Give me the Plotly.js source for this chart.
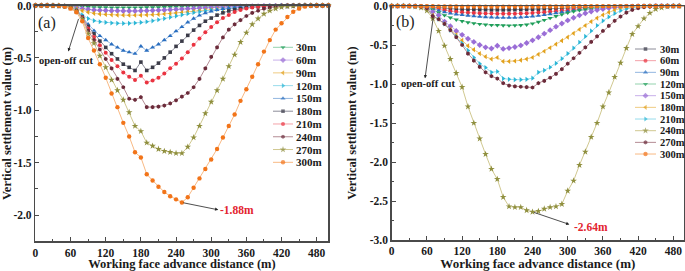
<!DOCTYPE html>
<html><head><meta charset="utf-8">
<script src="https://cdn.plot.ly/plotly-3.0.1.min.js"></script>
<style>html,body{margin:0;padding:0;background:#fff;} #chart{width:685px;height:271px;}</style>
</head><body><div id="chart"></div>
<script>
// ---------- data ----------
const xDist = [0,10,20,30,40,50,60,70,80,90,100,110,120,130,140,150,160,170,180,190,200,210,220,230,240,250,260,270,280,290,300,310,320,330,340,350,360,370,380,390,400,410,420,430,440,450,460,470,480,490,500];
const seriesNames = ['30m','60m','90m','120m','150m','180m','210m','240m','270m','300m'];

// panel (a)
const a30 = [0,0,0,0,-0.002,-0.004,-0.007,-0.010,-0.013,-0.015,
  -0.017,-0.018,-0.019,-0.020,-0.020,-0.020,-0.020,-0.020,-0.020,-0.019,
  -0.018,-0.017,-0.016,-0.015,-0.014,-0.013,-0.012,-0.011,-0.010,-0.009,
  -0.008,-0.007,-0.006,-0.005,-0.005,-0.004,-0.004,-0.003,-0.003,-0.002,
  -0.002,-0.002,-0.001,-0.001,-0.001,-0.001,0,0,0,0,0];
const a60 = [0,0,0,-0.001,-0.003,-0.006,-0.012,-0.020,-0.030,-0.038,
  -0.043,-0.046,-0.048,-0.050,-0.051,-0.052,-0.052,-0.052,-0.051,-0.050,
  -0.048,-0.046,-0.043,-0.040,-0.037,-0.034,-0.031,-0.028,-0.025,-0.022,
  -0.019,-0.017,-0.015,-0.013,-0.011,-0.009,-0.008,-0.007,-0.006,-0.005,
  -0.004,-0.003,-0.002,-0.002,-0.001,-0.001,0,0,0,0,0];
const a90 = [0,0,0,-0.001,-0.003,-0.007,-0.015,-0.030,-0.050,-0.065,
  -0.075,-0.082,-0.086,-0.089,-0.091,-0.092,-0.093,-0.093,-0.092,-0.090,
  -0.088,-0.085,-0.081,-0.077,-0.072,-0.067,-0.062,-0.056,-0.050,-0.045,
  -0.040,-0.035,-0.030,-0.026,-0.022,-0.018,-0.015,-0.012,-0.010,-0.008,
  -0.006,-0.005,-0.004,-0.003,-0.002,-0.001,-0.001,0,0,0,0];
const a120 = [0,0,0,-0.001,-0.003,-0.008,-0.018,-0.040,-0.090,-0.125,
  -0.145,-0.155,-0.162,-0.167,-0.170,-0.171,-0.170,-0.167,-0.162,-0.155,
  -0.146,-0.136,-0.125,-0.113,-0.101,-0.089,-0.078,-0.068,-0.059,-0.051,
  -0.044,-0.038,-0.032,-0.027,-0.022,-0.018,-0.015,-0.012,-0.010,-0.008,
  -0.006,-0.005,-0.004,-0.003,-0.002,-0.001,-0.001,0,0,0,0];
const a150 = [0,0,0,-0.001,-0.003,-0.008,-0.020,-0.045,-0.105,-0.180,
  -0.240,-0.290,-0.330,-0.370,-0.400,-0.430,-0.445,-0.460,-0.390,-0.430,
  -0.400,-0.370,-0.330,-0.290,-0.245,-0.205,-0.160,-0.125,-0.095,-0.072,
  -0.055,-0.042,-0.032,-0.025,-0.019,-0.015,-0.011,-0.008,-0.006,-0.004,
  -0.003,-0.002,-0.001,-0.001,0,0,0,0,0,0,0];
const a180 = [0,0,0,-0.001,-0.003,-0.008,-0.020,-0.048,-0.110,-0.200,
  -0.270,-0.340,-0.400,-0.460,-0.510,-0.560,-0.590,-0.620,-0.540,-0.620,
  -0.590,-0.550,-0.500,-0.445,-0.390,-0.340,-0.285,-0.235,-0.190,-0.150,
  -0.120,-0.092,-0.070,-0.052,-0.040,-0.030,-0.022,-0.016,-0.011,-0.008,
  -0.005,-0.003,-0.002,-0.001,0,0,0,0,0,0,0];
const a210 = [0,0,0,-0.001,-0.003,-0.008,-0.020,-0.050,-0.115,-0.220,
  -0.300,-0.380,-0.450,-0.520,-0.580,-0.640,-0.680,-0.710,-0.670,-0.735,
  -0.715,-0.690,-0.650,-0.600,-0.555,-0.505,-0.445,-0.375,-0.315,-0.255,
  -0.205,-0.160,-0.120,-0.090,-0.062,-0.042,-0.028,-0.018,-0.012,-0.008,
  -0.005,-0.003,-0.002,-0.001,0,0,0,0,0,0,0];
const a240 = [0,0,0,-0.001,-0.003,-0.008,-0.020,-0.052,-0.120,-0.240,
  -0.330,-0.420,-0.510,-0.600,-0.700,-0.780,-0.890,-0.900,-0.875,-0.970,
  -0.970,-0.965,-0.955,-0.935,-0.905,-0.870,-0.835,-0.780,-0.700,-0.600,
  -0.490,-0.400,-0.305,-0.230,-0.180,-0.140,-0.100,-0.070,-0.050,-0.030,
  -0.020,-0.012,-0.007,-0.004,-0.002,-0.001,0,0,0,0,0];
const a270 = [0,0,0,-0.001,-0.003,-0.008,-0.020,-0.055,-0.130,-0.270,
  -0.360,-0.480,-0.590,-0.710,-0.810,-0.900,-1.020,-1.150,-1.200,-1.310,
  -1.340,-1.370,-1.390,-1.400,-1.410,-1.410,-1.350,-1.260,-1.150,-1.030,
  -0.920,-0.810,-0.700,-0.580,-0.470,-0.350,-0.260,-0.180,-0.125,-0.080,
  -0.050,-0.030,-0.015,-0.008,-0.004,-0.002,-0.001,0,0,0,0];
const a300 = [0,0,0,-0.001,-0.003,-0.010,-0.030,-0.065,-0.150,-0.310,
  -0.430,-0.560,-0.690,-0.840,-0.970,-1.120,-1.250,-1.400,-1.450,-1.610,
  -1.670,-1.730,-1.780,-1.820,-1.850,-1.880,-1.830,-1.740,-1.650,-1.560,
  -1.470,-1.370,-1.260,-1.150,-1.040,-0.910,-0.800,-0.680,-0.560,-0.440,
  -0.330,-0.230,-0.170,-0.110,-0.060,-0.030,-0.010,-0.003,0,0,0];

// panel (b)
const b30 = [0,0,0,-0.001,-0.002,-0.004,-0.008,-0.014,-0.022,-0.030,
  -0.036,-0.040,-0.043,-0.045,-0.047,-0.048,-0.049,-0.050,-0.050,-0.050,
  -0.049,-0.048,-0.047,-0.045,-0.043,-0.041,-0.038,-0.035,-0.032,-0.029,
  -0.026,-0.023,-0.020,-0.017,-0.014,-0.012,-0.010,-0.008,-0.006,-0.005,
  -0.004,-0.003,-0.002,-0.001,-0.001,0,0,0,0,0,0];
const b60 = [0,0,0,-0.001,-0.002,-0.005,-0.012,-0.025,-0.040,-0.055,
  -0.066,-0.074,-0.080,-0.085,-0.089,-0.092,-0.095,-0.097,-0.098,-0.099,
  -0.099,-0.098,-0.096,-0.093,-0.089,-0.084,-0.079,-0.073,-0.067,-0.060,
  -0.053,-0.046,-0.040,-0.034,-0.028,-0.023,-0.018,-0.014,-0.011,-0.008,
  -0.006,-0.004,-0.003,-0.002,-0.001,-0.001,0,0,0,0,0];
const b90 = [0,0,0,-0.001,-0.002,-0.005,-0.014,-0.035,-0.060,-0.080,
  -0.095,-0.106,-0.115,-0.123,-0.130,-0.136,-0.141,-0.145,-0.148,-0.150,
  -0.150,-0.148,-0.145,-0.140,-0.133,-0.124,-0.114,-0.103,-0.091,-0.080,
  -0.069,-0.058,-0.048,-0.039,-0.031,-0.024,-0.018,-0.013,-0.009,-0.006,
  -0.004,-0.003,-0.002,-0.001,-0.001,0,0,0,0,0,0];
const b120 = [0,0,0,-0.001,-0.002,-0.006,-0.016,-0.045,-0.085,-0.120,
  -0.150,-0.175,-0.195,-0.210,-0.222,-0.232,-0.240,-0.245,-0.246,-0.250,
  -0.251,-0.250,-0.246,-0.240,-0.225,-0.205,-0.180,-0.155,-0.130,-0.108,
  -0.088,-0.070,-0.055,-0.042,-0.032,-0.024,-0.017,-0.012,-0.008,-0.005,
  -0.003,-0.002,-0.001,-0.001,0,0,0,0,0,0,0];
const b150 = [0,0,0,-0.001,-0.003,-0.008,-0.025,-0.075,-0.120,-0.200,
  -0.260,-0.320,-0.370,-0.420,-0.460,-0.500,-0.530,-0.545,-0.510,-0.550,
  -0.540,-0.525,-0.505,-0.475,-0.440,-0.400,-0.355,-0.310,-0.265,-0.225,
  -0.185,-0.150,-0.120,-0.093,-0.070,-0.052,-0.038,-0.027,-0.018,-0.012,
  -0.008,-0.005,-0.003,-0.002,-0.001,0,0,0,0,0,0];
const b180 = [0,0,0,-0.001,-0.003,-0.008,-0.026,-0.120,-0.170,-0.230,
  -0.300,-0.370,-0.440,-0.510,-0.560,-0.610,-0.650,-0.680,-0.660,-0.710,
  -0.710,-0.705,-0.695,-0.680,-0.660,-0.620,-0.580,-0.535,-0.490,-0.445,
  -0.400,-0.350,-0.300,-0.250,-0.200,-0.155,-0.115,-0.080,-0.052,-0.032,
  -0.020,-0.012,-0.007,-0.004,-0.002,-0.001,0,0,0,0,0];
const b210 = [0,0,0,-0.001,-0.003,-0.008,-0.027,-0.130,-0.170,-0.230,
  -0.310,-0.390,-0.480,-0.570,-0.660,-0.740,-0.790,-0.850,-0.840,-0.930,
  -0.940,-0.945,-0.945,-0.940,-0.925,-0.850,-0.825,-0.785,-0.735,-0.675,
  -0.610,-0.540,-0.465,-0.390,-0.320,-0.250,-0.190,-0.140,-0.095,-0.060,
  -0.036,-0.020,-0.011,-0.006,-0.003,-0.001,0,0,0,0,0];
const b240 = [0,0,0,-0.003,-0.008,-0.020,-0.060,-0.160,-0.320,-0.510,
  -0.680,-0.860,-1.040,-1.290,-1.500,-1.700,-1.900,-2.090,-2.220,-2.450,
  -2.570,-2.580,-2.580,-2.620,-2.640,-2.630,-2.600,-2.580,-2.570,-2.540,
  -2.370,-2.240,-2.040,-1.870,-1.680,-1.500,-1.290,-1.110,-0.910,-0.730,
  -0.540,-0.360,-0.260,-0.160,-0.090,-0.040,-0.020,-0.008,-0.003,-0.001,0];
const b270 = [0,0,0,-0.001,-0.003,-0.008,-0.028,-0.130,-0.170,-0.230,
  -0.310,-0.400,-0.500,-0.610,-0.700,-0.780,-0.850,-0.900,-0.930,-0.990,
  -1.020,-1.030,-1.035,-1.040,-1.045,-0.990,-0.960,-0.920,-0.870,-0.810,
  -0.740,-0.670,-0.600,-0.530,-0.460,-0.390,-0.320,-0.255,-0.190,-0.135,
  -0.085,-0.050,-0.028,-0.015,-0.008,-0.004,-0.002,-0.001,0,0,0];
const b300 = [0,0,0,0,-0.001,-0.002,-0.003,-0.004,-0.005,-0.006,
  -0.007,-0.007,-0.008,-0.008,-0.008,-0.008,-0.008,-0.008,-0.008,-0.008,
  -0.008,-0.008,-0.008,-0.008,-0.007,-0.007,-0.007,-0.006,-0.006,-0.005,
  -0.005,-0.004,-0.004,-0.003,-0.003,-0.002,-0.002,-0.002,-0.001,-0.001,
  -0.001,-0.001,0,0,0,0,0,0,0,0,0];

// tick labels
const xTickVals = [0,60,120,180,240,300,360,420,480];
const xTickText = ['0','60','120','180','240','300','360','420','480'];
const xMinorVals = [30,90,150,210,270,330,390,450];
const yTickValsA = [0,-0.5,-1.0,-1.5,-2.0];
const yTickTextA = ['0.0','-0.5','-1.0','-1.5','-2.0'];
const yMinorValsA = [-0.25,-0.75,-1.25,-1.75];
const yTickValsB = [0,-0.5,-1.0,-1.5,-2.0,-2.5,-3.0];
const yTickTextB = ['0.0','-0.5','-1.0','-1.5','-2.0','-2.5','-3.0'];
const yMinorValsB = [-0.25,-0.75,-1.25,-1.75,-2.25,-2.75];

const xTitle = 'Working face advance distance (m)';
const yTitle = 'Vertical settlement value (m)';

// ---------- styles ----------
const W = 685, H = 271;
const FONT = 'Liberation Serif, Times New Roman, serif';
const PAL = {
  green:  {m:'#1f9e5a', l:'#93d2ad', s:'triangle-down', z:4.5},
  purple: {m:'#9a6dd6', l:'#c8b0ea', s:'diamond', z:4.5},
  gold:   {m:'#e2a11c', l:'#efcb82', s:'triangle-left', z:4.5},
  cyan:   {m:'#2bb6d6', l:'#98dcec', s:'triangle-right', z:4.5},
  blue:   {m:'#2b6fc0', l:'#92b6e0', s:'triangle-up', z:4.5},
  gray:   {m:'#3b3b48', l:'#8c8c98', s:'square', z:3.6},
  red:    {m:'#ea3340', l:'#f4a2a9', s:'circle', z:4},
  maroon: {m:'#6b2b3a', l:'#b48c94', s:'hexagon', z:4.2},
  olive:  {m:'#8f8f3e', l:'#d0c890', s:'star', z:5},
  orange: {m:'#f27419', l:'#f8b984', s:'circle', z:4.4}
};
const styleA = ['green','purple','gold','cyan','blue','gray','red','maroon','olive','orange'];
const styleB = ['gray','red','blue','green','purple','gold','cyan','olive','maroon','orange'];
const seriesA = [a30,a60,a90,a120,a150,a180,a210,a240,a270,a300];
const seriesB = [b30,b60,b90,b120,b150,b180,b210,b240,b270,b300];

const traces = [];
function addPanel(series, styles, xa, ya) {
  series.forEach((yv, i) => {
    const p = PAL[styles[i]];
    traces.push({
      x: xDist, y: yv, xaxis: xa, yaxis: ya, type: 'scatter', mode: 'lines+markers',
      name: seriesNames[i], showlegend: false, cliponaxis: false, hoverinfo: 'skip',
      line: {color: p.l, width: 1},
      marker: {symbol: p.s, size: p.z, color: p.m, line: {width: 0}}
    });
  });
}
addPanel(seriesA, styleA, 'x', 'y');
addPanel(seriesB, styleB, 'x2', 'y2');

// custom compact legends on a pixel overlay axis (x3/y3)
const legA = {x0: 273, len: 20, y0: 47.3, dy: 12.78, tx: 294, fs: 11};
const legB = {x0: 635, len: 21, y0: 49.0, dy: 11.67, tx: 658, fs: 10.5};
const annotations = [];
function addLegend(leg, styles) {
  seriesNames.forEach((nm, i) => {
    const p = PAL[styles[i]];
    const yy = leg.y0 + i * leg.dy;
    traces.push({
      x: [leg.x0, leg.x0 + leg.len / 2, leg.x0 + leg.len], y: [yy, yy, yy],
      xaxis: 'x3', yaxis: 'y3', type: 'scatter', mode: 'lines+markers', showlegend: false,
      cliponaxis: false, hoverinfo: 'skip',
      line: {color: p.l, width: 1},
      marker: {symbol: p.s, size: [0, p.z, 0], color: p.m, line: {width: 0}}
    });
    annotations.push({
      xref: 'x3', yref: 'y3', x: leg.tx, y: yy, xanchor: 'left', yanchor: 'middle',
      text: nm, showarrow: false,
      font: {family: FONT, size: leg.fs, weight: 'bold', color: '#1a1a1a'}
    });
  });
}
addLegend(legA, styleA);
addLegend(legB, styleB);

// annotations in data coordinates
function minInfo(arr) {
  let k = 0; arr.forEach((v, i) => { if (v < arr[k]) k = i; });
  return {x: xDist[k], y: arr[k]};
}
const mA = minInfo(a300), mB = minInfo(b240);
const bold = (sz, col) => ({family: FONT, size: sz, weight: 'bold', color: col || '#1a1a1a'});
annotations.push(
  {xref:'x', yref:'y', x: 19.8, y: -0.167, text: '(a)', showarrow: false, font: {family: FONT, size: 16, color: '#222'}},
  {xref:'x2', yref:'y2', x: 23.5, y: -0.21, text: '(b)', showarrow: false, font: {family: FONT, size: 16, color: '#222'}},
  {xref:'x', yref:'y', x: 52.2, y: -0.524, text: 'open-off cut', showarrow: false, font: bold(10.5)},
  {xref:'x2', yref:'y2', x: 61.2, y: -0.991, text: 'open-off cut', showarrow: false, font: bold(10.5)},
  {xref:'x', yref:'y', x: 56.1, y: -0.438, axref:'x', ayref:'y', ax: 74.4, ay: -0.114, text: '', showarrow: true,
   arrowhead: 2, arrowsize: 0.8, arrowwidth: 0.8, arrowcolor: '#222'},
  {xref:'x2', yref:'y2', x: 56.8, y: -0.927, axref:'x2', ayref:'y2', ax: 70.9, ay: -0.137, text: '', showarrow: true,
   arrowhead: 2, arrowsize: 0.8, arrowwidth: 0.8, arrowcolor: '#222'},
  {xref:'x', yref:'y', x: 312, y: -1.95, axref:'x', ayref:'y', ax: mA.x, ay: mA.y, text: '', showarrow: true,
   arrowhead: 2, arrowsize: 0.8, arrowwidth: 0.8, arrowcolor: '#222'},
  {xref:'x2', yref:'y2', x: 302.7, y: -2.80, axref:'x2', ayref:'y2', ax: mB.x, ay: mB.y, text: '', showarrow: true,
   arrowhead: 2, arrowsize: 0.8, arrowwidth: 0.8, arrowcolor: '#222'},
  {xref:'x', yref:'y', x: 343.5, y: -1.953, text: mA.y.toFixed(2) + 'm', showarrow: false, font: bold(11.5, '#e3242f')},
  {xref:'x2', yref:'y2', x: 339.9, y: -2.83, text: mB.y.toFixed(2) + 'm', showarrow: false, font: bold(11.5, '#e3242f')}
);

const baseAx = {
  showline: true, linecolor: '#4a4a4a', linewidth: 1.5, mirror: true,
  showgrid: false, zeroline: false, ticks: 'inside', ticklen: 4, tickwidth: 1, tickcolor: '#4a4a4a',
  tickfont: bold(11.5), fixedrange: true, ticklabeloverflow: 'allow'
};
const minorX = {tickmode: 'array', tickvals: xMinorVals, ticks: 'inside', ticklen: 2.5, tickwidth: 1, tickcolor: '#4a4a4a'};
const layout = {
  width: W, height: H, margin: {l: 0, r: 0, t: 0, b: 0},
  paper_bgcolor: '#fff', plot_bgcolor: 'rgba(0,0,0,0)', showlegend: false,
  xaxis: Object.assign({}, baseAx, {domain: [35.4 / W, 328.4 / W], range: [0, 500], anchor: 'y',
    tickmode: 'array', tickvals: xTickVals, ticktext: xTickText, minor: minorX,
    title: {text: xTitle, font: bold(12.5)}}),
  yaxis: Object.assign({}, baseAx, {domain: [1 - 241.25 / H, 1 - 5.5 / H], range: [-2.25, 0], anchor: 'x',
    tickmode: 'array', tickvals: yTickValsA, ticktext: yTickTextA,
    minor: {tickmode: 'array', tickvals: yMinorValsA, ticks: 'inside', ticklen: 2.5, tickwidth: 1, tickcolor: '#4a4a4a'},
    title: {text: yTitle, font: bold(12.5)}}),
  xaxis2: Object.assign({}, baseAx, {domain: [391.7 / W, 684 / W], range: [0, 498.2], anchor: 'y2',
    tickmode: 'array', tickvals: xTickVals, ticktext: xTickText, minor: minorX,
    title: {text: xTitle, font: bold(13)}}),
  yaxis2: Object.assign({}, baseAx, {domain: [1 - 240 / H, 1 - 6 / H], range: [-3, 0], anchor: 'x2',
    tickmode: 'array', tickvals: yTickValsB, ticktext: yTickTextB,
    minor: {tickmode: 'array', tickvals: yMinorValsB, ticks: 'inside', ticklen: 2.5, tickwidth: 1, tickcolor: '#4a4a4a'},
    title: {text: yTitle, font: bold(12.5)}}),
  xaxis3: {domain: [0, 1], range: [0, W], visible: false, fixedrange: true, anchor: 'y3'},
  yaxis3: {domain: [0, 1], range: [H, 0], visible: false, fixedrange: true, anchor: 'x3'},
  annotations: annotations
};
Plotly.newPlot('chart', traces, layout, {staticPlot: true, displayModeBar: false});
</script></body></html>
